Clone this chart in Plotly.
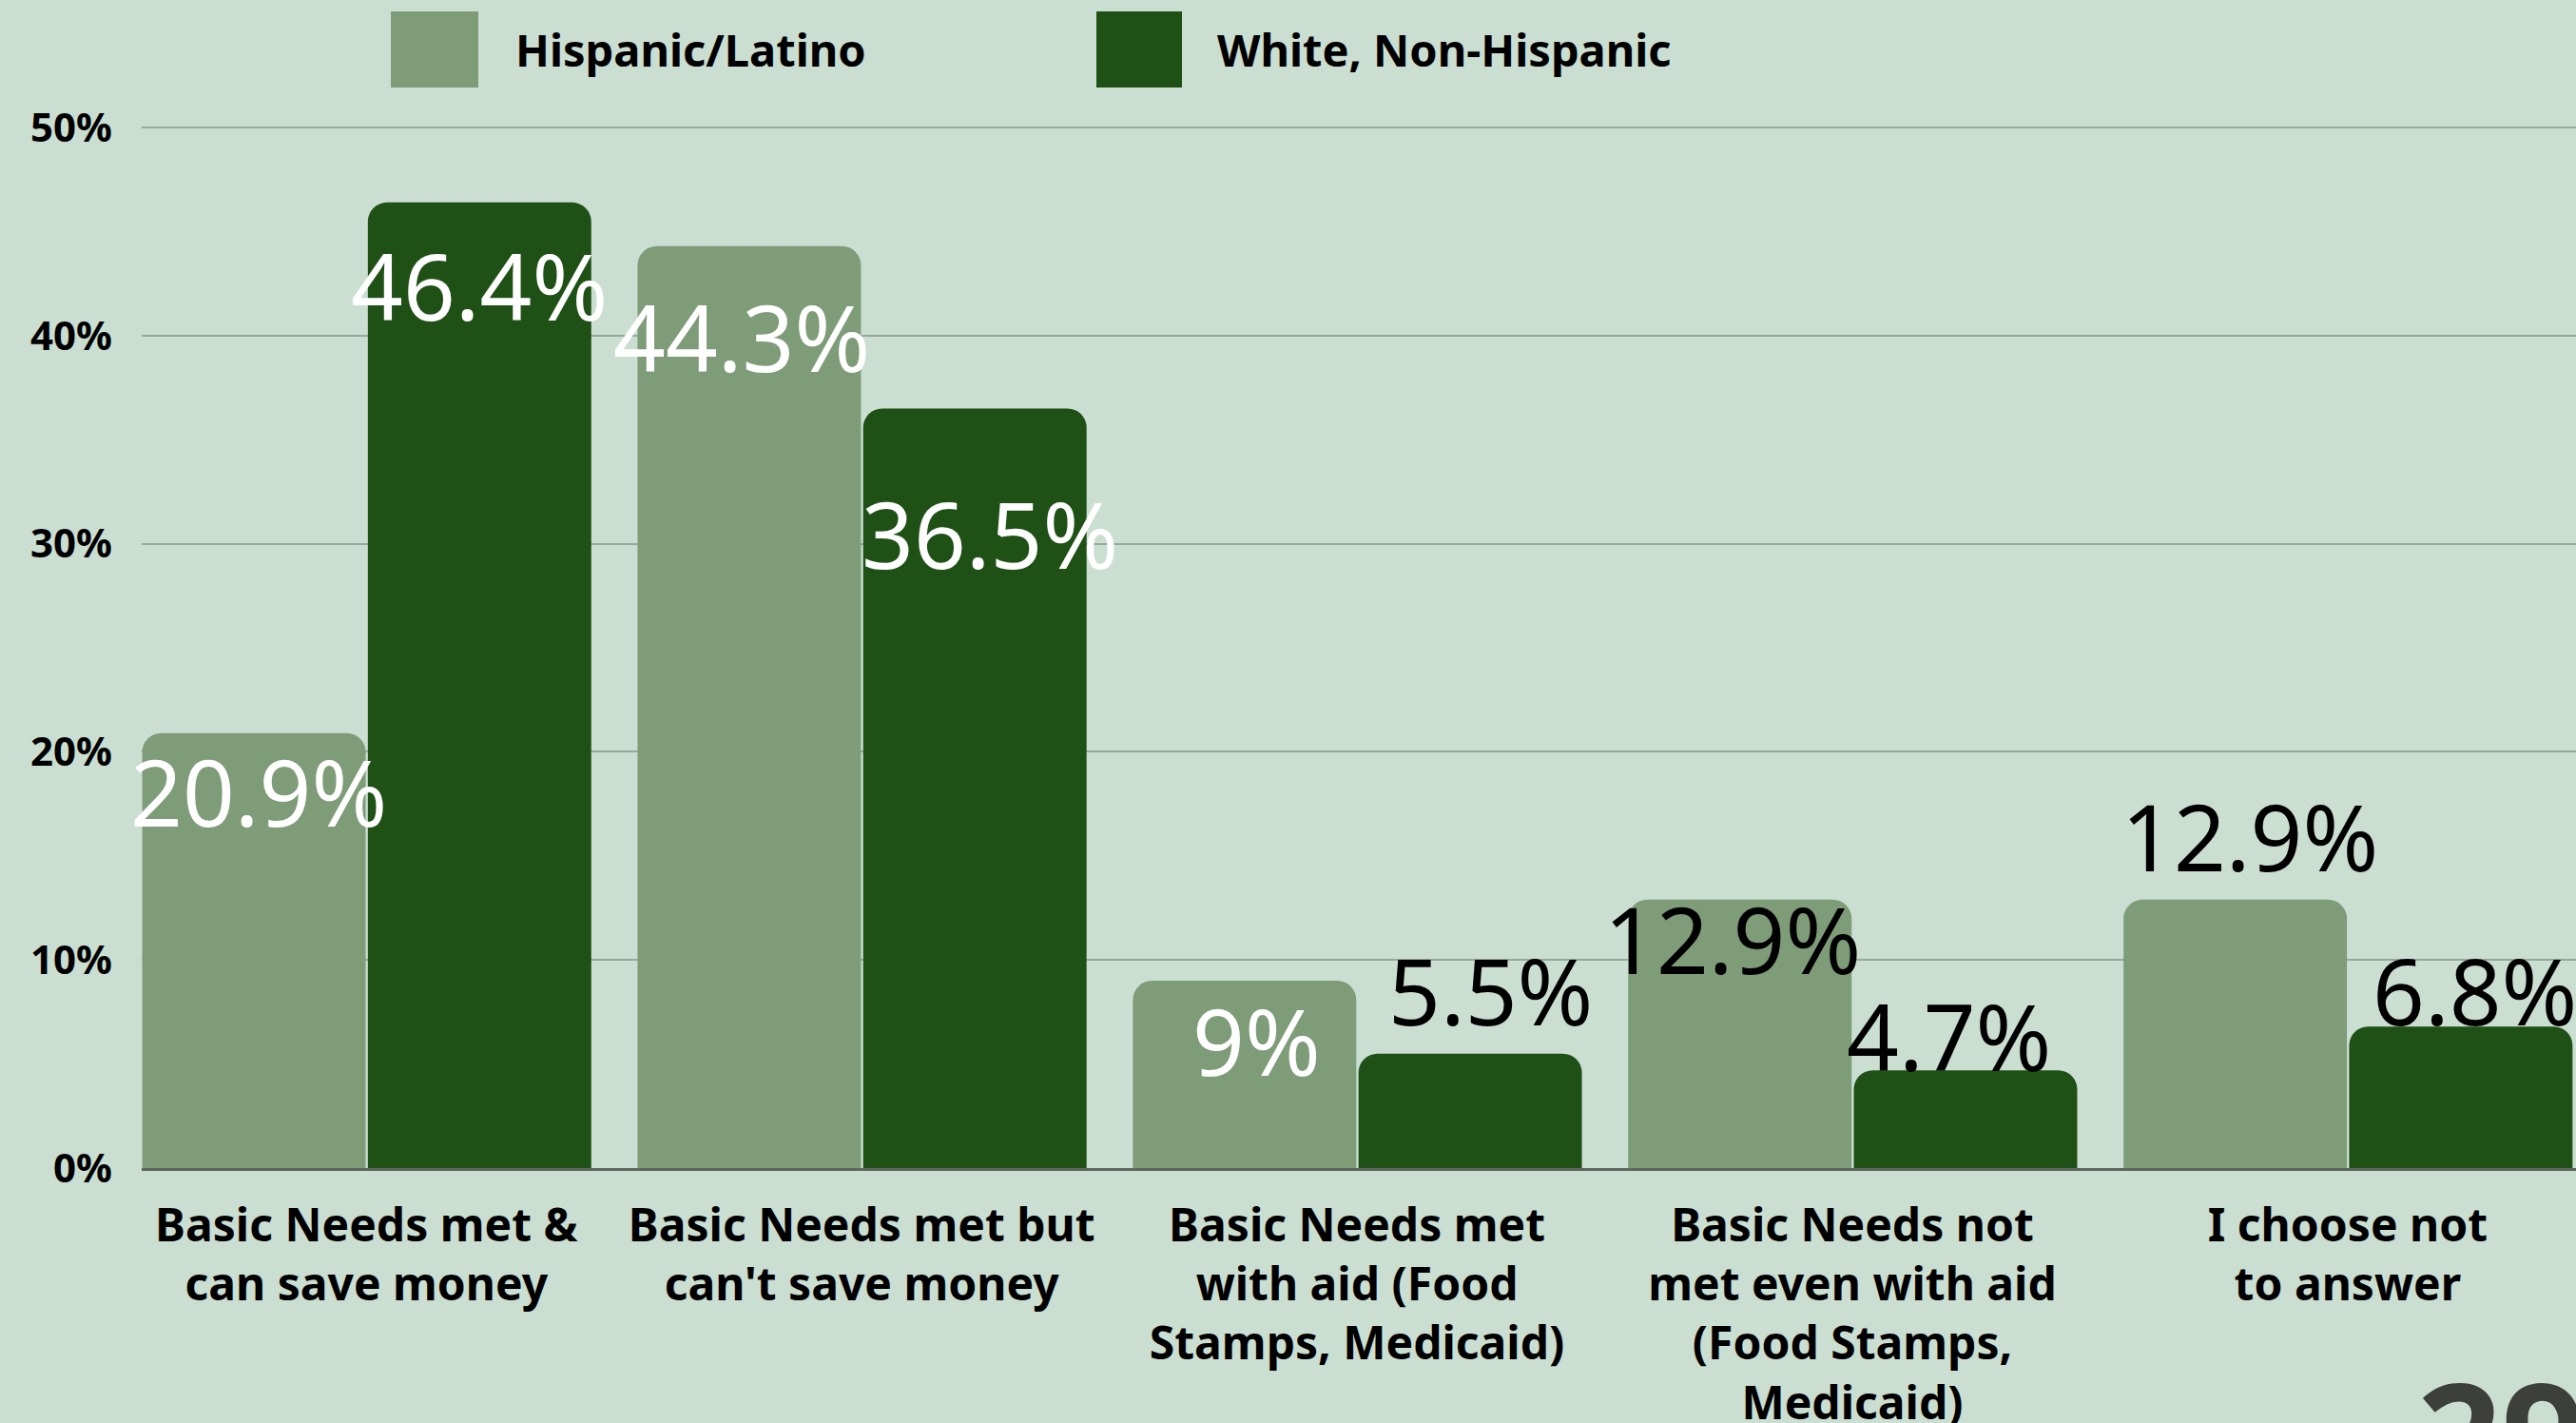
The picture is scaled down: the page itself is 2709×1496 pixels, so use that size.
import plotly.graph_objects as go

# ---- data ----
categories = [
    "Basic Needs met &<br>can save money",
    "Basic Needs met but<br>can't save money",
    "Basic Needs met<br>with aid (Food<br>Stamps, Medicaid)",
    "Basic Needs not<br>met even with aid<br>(Food Stamps,<br>Medicaid)",
    "I choose not<br>to answer",
]
series_names = ["Hispanic/Latino", "White, Non-Hispanic"]
hispanic_latino = [20.9, 44.3, 9, 12.9, 12.9]
white_non_hispanic = [46.4, 36.5, 5.5, 4.7, 6.8]
y_tick_values = [0, 10, 20, 30, 40, 50]
y_tick_labels = ["0%", "10%", "20%", "30%", "40%", "50%"]
page_number = "29"

# ---- styling ----
W, H = 2709, 1496
M_L, M_R, M_T, M_B = 149, 0, 133, 268
BG = "#cbded2"
LIGHT = "#7e9c78"
DARK = "#1f5116"
GRID = "#97a89d"
FONT = "Noto Sans"

BAR_W = 0.451
OFFSETS = [-0.4525, 0.003]
COLORS = [LIGHT, DARK]

# label nudges (px) and text colour per bar, per series
label_dx = [[5, -8, 13, -8, 15], [0, 16, 21, -17, 15]]
label_dy = [[-61, -95, -62, -41, 67], [-87, -131, 67, 37, 39]]
label_color = [
    ["white", "white", "white", "black", "black"],
    ["white", "white", "black", "black", "black"],
]

plot_w = W - M_L - M_R
plot_h = H - M_T - M_B


def px_to_paper_x(px):
    return (px - M_L) / plot_w


def px_to_paper_y(py):
    return (H - M_B - py) / plot_h


x_pos = list(range(len(categories)))
fig = go.Figure()
annotations = []
for s, values in enumerate([hispanic_latino, white_non_hispanic]):
    fig.add_trace(go.Bar(
        x=x_pos,
        y=values,
        name=series_names[s],
        width=BAR_W,
        offset=OFFSETS[s],
        marker=dict(color=COLORS[s], line=dict(width=0), cornerradius=20),
        showlegend=False,
        hoverinfo="skip",
    ))
    for i, v in enumerate(values):
        annotations.append(dict(
            x=i + OFFSETS[s] + BAR_W / 2,
            y=v,
            xref="x",
            yref="y",
            text=f"{v:g}%",
            showarrow=False,
            xanchor="center",
            yanchor="middle",
            xshift=label_dx[s][i],
            yshift=label_dy[s][i],
            font=dict(family=FONT, size=96, color=label_color[s][i]),
        ))

# legend: large swatches with bold names
shapes = []
legend_items = [(411, 503, 540), (1153, 1243, 1278)]
for s, (x0, x1, tx) in enumerate(legend_items):
    shapes.append(dict(
        type="rect", xref="paper", yref="paper",
        x0=px_to_paper_x(x0), x1=px_to_paper_x(x1),
        y0=px_to_paper_y(92), y1=px_to_paper_y(12),
        fillcolor=COLORS[s], line=dict(width=0), layer="above",
    ))
    annotations.append(dict(
        x=px_to_paper_x(tx), y=px_to_paper_y(52),
        xref="paper", yref="paper",
        text=f"<b>{series_names[s]}</b>",
        showarrow=False, xanchor="left", yanchor="middle",
        font=dict(family=FONT, size=47, color="black"),
    ))

# page number in the lower-right corner
annotations.append(dict(
    x=px_to_paper_x(2540), y=px_to_paper_y(1398),
    xref="paper", yref="paper",
    text=f"<b>{page_number}</b>",
    showarrow=False, xanchor="left", yanchor="top",
    font=dict(family=FONT, size=155, color="#3d3f3a"),
))

fig.update_layout(
    width=W,
    height=H,
    autosize=False,
    margin=dict(l=M_L, r=M_R, t=M_T, b=M_B, pad=0, autoexpand=False),
    paper_bgcolor=BG,
    plot_bgcolor=BG,
    barmode="overlay",
    showlegend=False,
    annotations=annotations,
    shapes=shapes,
    xaxis=dict(
        range=[-0.4536, 4.461],
        tickmode="array",
        tickvals=x_pos,
        ticktext=[f"<b>{c}</b>" for c in categories],
        tickfont=dict(family=FONT, size=48, color="black"),
        showgrid=False,
        zeroline=False,
        showline=True,
        linecolor="#5d665f",
        linewidth=3,
        ticks="",
        ticklabelstandoff=16,
        automargin=False,
        fixedrange=True,
    ),
    yaxis=dict(
        range=[0, 50.05],
        tickmode="array",
        tickvals=y_tick_values,
        ticktext=[f"<b>{t}</b>" for t in y_tick_labels],
        tickfont=dict(family=FONT, size=42, color="black"),
        showgrid=True,
        gridcolor=GRID,
        gridwidth=2,
        zeroline=False,
        showline=False,
        ticks="",
        ticklabelstandoff=30,
        automargin=False,
        fixedrange=True,
    ),
)

fig.write_html("out.html", config={"displayModeBar": False})
